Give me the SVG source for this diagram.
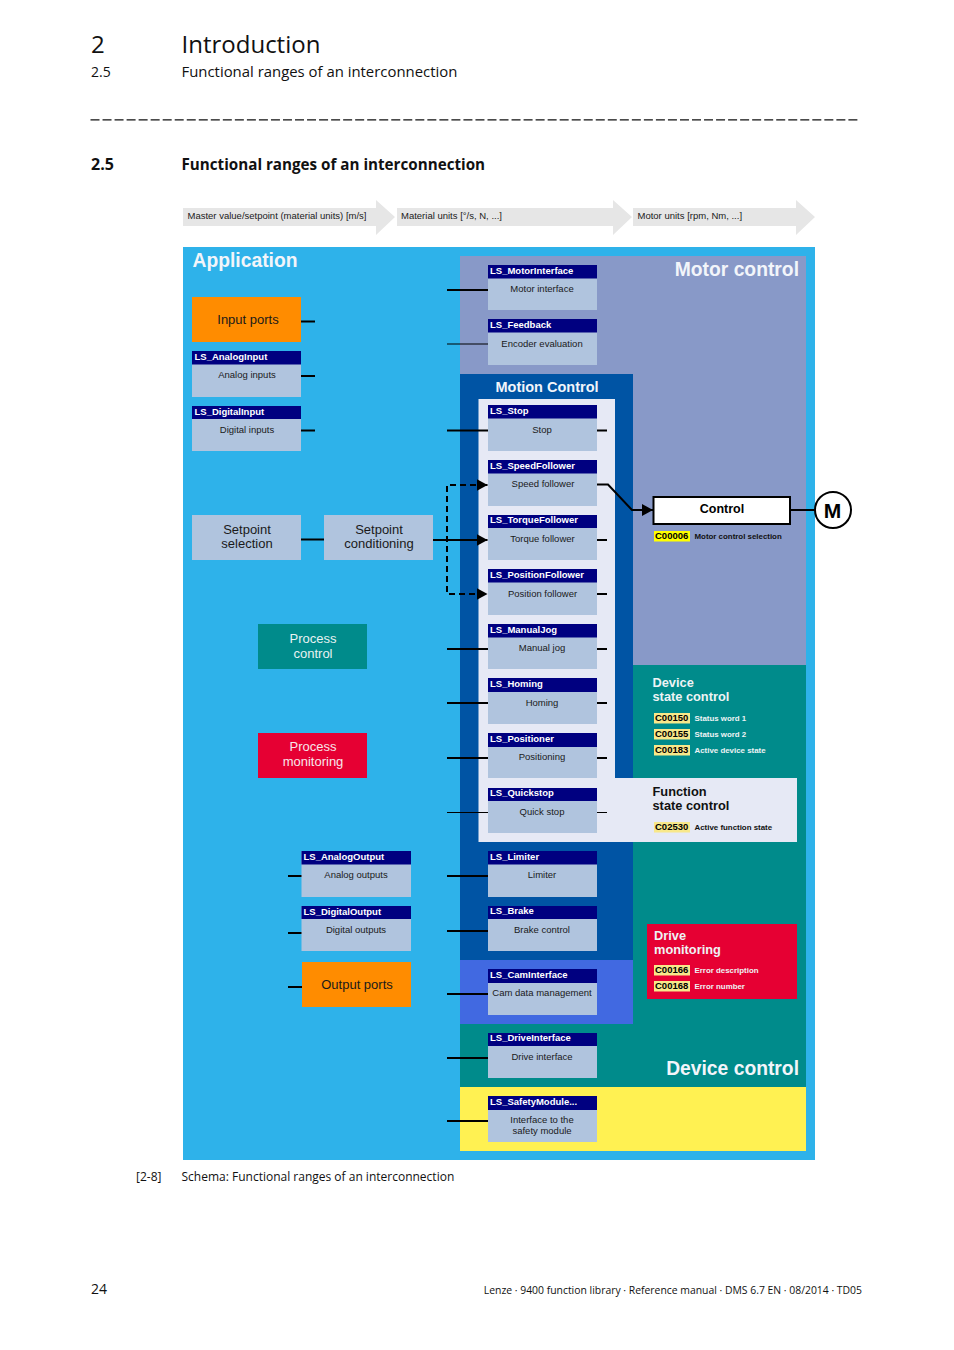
<svg xmlns="http://www.w3.org/2000/svg" width="954" height="1350" viewBox="0 0 954 1350">
<defs><style>
text{font-family:"Liberation Sans",Arial,sans-serif;fill:#1a1a1a}
.p{font-family:"Open Sans","Noto Sans",sans-serif;fill:#111}
.bh{fill:#000080}.bb{fill:#b0c4de}
.ht{font-size:9.500px;font-weight:bold;fill:#fff}
.bt{font-size:9.500px;text-anchor:middle}
.big{font-size:13px;text-anchor:middle}
.ttl{font-size:19.300px;font-weight:bold;fill:#f2f5fa}
.sub{font-size:12.800px;font-weight:bold;fill:#eef3f5}
.code{font-size:9.500px;font-weight:bold;fill:#000}
.cl{font-size:7.900px;font-weight:bold;fill:#eef3f5}
.ar{fill:#e6e6e6}.at{font-size:9.500px}
.c{stroke:#000;stroke-width:2;fill:none}.t{stroke:#000;stroke-width:1;fill:none}
.d{stroke:#000;stroke-width:2;fill:none;stroke-dasharray:6 4}
</style>
<marker id="ah" markerWidth="12" markerHeight="12" refX="11" refY="6" orient="auto" markerUnits="userSpaceOnUse"><path d="M0 0L11 6L0 12Z" fill="#000"/></marker>
</defs>
<rect width="954" height="1350" fill="#fff"/>
<g id="page-header">
<text class="p" x="91" y="53" font-size="24">2</text>
<text class="p" x="181.500" y="53" font-size="24">Introduction</text>
<text class="p" x="91" y="77" font-size="14">2.5</text>
<text class="p" x="181.500" y="77" font-size="14.900">Functional ranges of an interconnection</text>
<line x1="90.500" y1="119.800" x2="860" y2="119.800" stroke="#111" stroke-width="1.300" stroke-dasharray="9 3.030"/>
<text class="p" x="91" y="170" font-size="16" font-weight="bold">2.5</text>
<text class="p" x="181.500" y="170" font-size="15.200" font-weight="bold">Functional ranges of an interconnection</text>
</g>
<g id="unit-arrows">
<path class="ar" d="M183 208H376V200L395 217L376 235V226H183Z"/>
<text class="at" x="187.500" y="219">Master value/setpoint (material units) [m/s]</text>
<path class="ar" d="M397 208H613V200L632 217L613 235V226H397Z"/>
<text class="at" x="401" y="219">Material units [°/s, N, ...]</text>
<path class="ar" d="M633 208H796V200L815 217L796 235V226H633Z"/>
<text class="at" x="637.500" y="219">Motor units [rpm, Nm, ...]</text>
</g>
<g id="panels">
<rect x="183" y="247" width="632" height="913" fill="#2eb2ea"/>
<rect x="460" y="256" width="346" height="409" fill="#8899c8"/>
<rect x="633" y="665" width="173" height="422" fill="#008b8b"/>
<rect x="460" y="842" width="173" height="245" fill="#008b8b"/>
<rect x="460" y="374" width="173" height="586" fill="#0054a4"/>
<rect x="460" y="960" width="173" height="64" fill="#4169e1"/>
<rect x="460" y="1087" width="346" height="64" fill="#fff152"/>
<path d="M478.500 399H615V778H797V842H478.500Z" fill="#e6e9f5"/>
<text class="ttl" x="192.500" y="267">Application</text>
<text class="ttl" x="799" y="276" text-anchor="end">Motor control</text>
<text x="547" y="392" font-size="14.500" font-weight="bold" text-anchor="middle" style="fill:#f2f5fa">Motion Control</text>
<text class="ttl" x="799" y="1075" text-anchor="end">Device control</text>
</g>
<g id="connectors">
<path class="c" d="M301 321.500H315M301 376H315M301 430.500H315M447 290H488M447 430.500H488M597 430.500H607M597 540H607M597 594H607M597 649H607M597 703H607M597 758H607M288 876H302M288 933H302M288 987H302M447 649H488M447 703H488M447 758H488M447 876H488M447 931H488M447 994H488M447 1058H488M447 1121H488M301 539.500H324"/>
<path class="t" d="M447 344H488M447 812.500H488M597 812.500H607"/>
<path class="c" d="M433 540H487.500" marker-end="url(#ah)"/>
<path class="d" d="M476 485H447V594H487.500" marker-end="url(#ah)"/>
<path class="c" d="M477 485H487.500" marker-end="url(#ah)"/>
<path class="c" d="M597 484.500H608L632 510H653" marker-end="url(#ah)"/>
<path class="c" d="M790 510H815"/>
</g>
<g id="node-input-ports"><rect x="192" y="297" width="109" height="45" fill="#ff8c00"/><text class="big" x="248" y="324">Input ports</text></g>
<g id="node-output-ports"><rect x="302" y="962" width="109" height="45" fill="#ff8c00"/><text class="big" x="357" y="989">Output ports</text></g>
<g id="node-setpoint-selection"><rect x="192" y="515" width="109" height="45" class="bb"/><text class="big" x="247" y="534">Setpoint</text><text class="big" x="247" y="548">selection</text></g>
<g id="node-setpoint-conditioning"><rect x="324" y="515" width="109" height="45" class="bb"/><text class="big" x="379" y="534">Setpoint</text><text class="big" x="379" y="548">conditioning</text></g>
<g id="node-process-control"><rect x="258" y="624" width="109" height="45" fill="#008b8b"/><text class="big" x="313" y="643" style="fill:#e8f2f2">Process</text><text class="big" x="313" y="658" style="fill:#e8f2f2">control</text></g>
<g id="node-process-monitoring"><rect x="258" y="733" width="109" height="45" fill="#e60033"/><text class="big" x="313" y="751" style="fill:#f7e6ea">Process</text><text class="big" x="313" y="766" style="fill:#f7e6ea">monitoring</text></g>
<g id="node-analog-input"><rect class="bb" x="192" y="351" width="109" height="46"/><rect class="bh" x="192" y="351" width="109" height="13.500"/><text class="ht" x="194.500" y="360">LS_AnalogInput</text><text class="bt" x="247" y="378">Analog inputs</text></g>
<g id="node-digital-input"><rect class="bb" x="192" y="406" width="109" height="45"/><rect class="bh" x="192" y="406" width="109" height="13"/><text class="ht" x="194.500" y="414.500">LS_DigitalInput</text><text class="bt" x="247" y="433">Digital inputs</text></g>
<g id="node-analog-output"><rect class="bb" x="301.500" y="851" width="109.500" height="46"/><rect class="bh" x="301.500" y="851" width="109.500" height="13.500"/><text class="ht" x="303.500" y="860">LS_AnalogOutput</text><text class="bt" x="356" y="878">Analog outputs</text></g>
<g id="node-digital-output"><rect class="bb" x="301.500" y="906" width="109.500" height="45"/><rect class="bh" x="301.500" y="906" width="109.500" height="13"/><text class="ht" x="303.500" y="914.500">LS_DigitalOutput</text><text class="bt" x="356" y="933">Digital outputs</text></g>
<g id="node-motor-interface"><rect class="bb" x="488" y="265" width="109" height="45"/><rect class="bh" x="488" y="265" width="109" height="13.500"/><text class="ht" x="490" y="274">LS_MotorInterface</text><text class="bt" x="542" y="292">Motor interface</text></g>
<g id="node-feedback"><rect class="bb" x="488" y="319" width="109" height="46"/><rect class="bh" x="488" y="319" width="109" height="13.500"/><text class="ht" x="490" y="328">LS_Feedback</text><text class="bt" x="542" y="347">Encoder evaluation</text></g>
<g id="node-stop"><rect class="bb" x="488" y="405" width="109" height="46"/><rect class="bh" x="488" y="405" width="109" height="13.500"/><text class="ht" x="490" y="414">LS_Stop</text><text class="bt" x="542" y="433">Stop</text></g>
<g id="node-speed-follower"><rect class="bb" x="488" y="460" width="109" height="46"/><rect class="bh" x="488" y="460" width="109" height="13.500"/><text class="ht" x="490" y="469">LS_SpeedFollower</text><text class="bt" x="543" y="487">Speed follower</text></g>
<g id="node-torque-follower"><rect class="bb" x="488" y="515" width="109" height="45"/><rect class="bh" x="488" y="515" width="109" height="13"/><text class="ht" x="490" y="523">LS_TorqueFollower</text><text class="bt" x="542.500" y="542">Torque follower</text></g>
<g id="node-position-follower"><rect class="bb" x="488" y="569" width="109" height="46"/><rect class="bh" x="488" y="569" width="109" height="13.500"/><text class="ht" x="490" y="578">LS_PositionFollower</text><text class="bt" x="542.500" y="597">Position follower</text></g>
<g id="node-manual-jog"><rect class="bb" x="488" y="624" width="109" height="45"/><rect class="bh" x="488" y="624" width="109" height="13.500"/><text class="ht" x="490" y="633">LS_ManualJog</text><text class="bt" x="542" y="651">Manual jog</text></g>
<g id="node-homing"><rect class="bb" x="488" y="678" width="109" height="46"/><rect class="bh" x="488" y="678" width="109" height="14"/><text class="ht" x="490" y="687">LS_Homing</text><text class="bt" x="542" y="706">Homing</text></g>
<g id="node-positioner"><rect class="bb" x="488" y="733" width="109" height="45"/><rect class="bh" x="488" y="733" width="109" height="14"/><text class="ht" x="490" y="742">LS_Positioner</text><text class="bt" x="542" y="760">Positioning</text></g>
<g id="node-quickstop"><rect class="bb" x="488" y="788" width="109" height="45"/><rect class="bh" x="488" y="788" width="109" height="13"/><text class="ht" x="490" y="796">LS_Quickstop</text><text class="bt" x="542" y="815">Quick stop</text></g>
<g id="node-limiter"><rect class="bb" x="488" y="851" width="109" height="46"/><rect class="bh" x="488" y="851" width="109" height="13.500"/><text class="ht" x="490" y="860">LS_Limiter</text><text class="bt" x="542" y="878">Limiter</text></g>
<g id="node-brake"><rect class="bb" x="488" y="906" width="109" height="45"/><rect class="bh" x="488" y="906" width="109" height="13"/><text class="ht" x="490" y="914">LS_Brake</text><text class="bt" x="542" y="933">Brake control</text></g>
<g id="node-cam-interface"><rect class="bb" x="488" y="969" width="109" height="46"/><rect class="bh" x="488" y="969" width="109" height="14"/><text class="ht" x="490" y="978">LS_CamInterface</text><text class="bt" x="542" y="996">Cam data management</text></g>
<g id="node-drive-interface"><rect class="bb" x="488" y="1033" width="109" height="45"/><rect class="bh" x="488" y="1033" width="109" height="13"/><text class="ht" x="490" y="1041">LS_DriveInterface</text><text class="bt" x="542" y="1060">Drive interface</text></g>
<g id="node-safety-module"><rect class="bb" x="488" y="1096" width="109" height="46"/><rect class="bh" x="488" y="1096" width="109" height="14"/><text class="ht" x="490" y="1105">LS_SafetyModule...</text><text class="bt" x="542" y="1123">Interface to the</text><text class="bt" x="542" y="1134">safety module</text></g>
<g id="node-control"><rect x="653.500" y="497" width="136.500" height="27" fill="#fff" stroke="#000" stroke-width="2"/><text x="722" y="513" font-size="12.500" font-weight="bold" text-anchor="middle" style="fill:#000">Control</text>
<rect x="654" y="531" width="36" height="10.500" fill="#ff0"/><text class="code" x="655" y="539">C00006</text><text class="cl" x="694.500" y="539" style="fill:#111">Motor control selection</text></g>
<g id="node-motor"><circle cx="833" cy="510" r="18" fill="#fff" stroke="#000" stroke-width="2"/><text x="832.500" y="517.500" font-size="21" font-weight="bold" text-anchor="middle" style="fill:#000">M</text></g>
<g id="node-device-state-control"><text class="sub" x="652.500" y="687">Device</text><text class="sub" x="652.500" y="701">state control</text>
<rect x="654" y="713" width="36" height="10.500" fill="#f8e88a"/><text class="code" x="655" y="721">C00150</text><text class="cl" x="694.500" y="721">Status word 1</text>
<rect x="654" y="729" width="36" height="10.500" fill="#f8e88a"/><text class="code" x="655" y="737">C00155</text><text class="cl" x="694.500" y="737">Status word 2</text>
<rect x="654" y="745" width="36" height="10.500" fill="#f8e88a"/><text class="code" x="655" y="753">C00183</text><text class="cl" x="694.500" y="753">Active device state</text></g>
<g id="node-function-state-control"><text class="sub" x="652.500" y="796" style="fill:#111">Function</text><text class="sub" x="652.500" y="810" style="fill:#111">state control</text>
<rect x="654" y="822" width="36" height="10.500" fill="#f8e88a"/><text class="code" x="655" y="830">C02530</text><text class="cl" x="694.500" y="830" style="fill:#111">Active function state</text></g>
<g id="node-drive-monitoring"><rect x="647" y="924" width="150" height="75" fill="#e60033"/><text class="sub" x="654" y="940">Drive</text><text class="sub" x="654" y="954">monitoring</text>
<rect x="654" y="965" width="36" height="10.500" fill="#f8e88a"/><text class="code" x="655" y="973">C00166</text><text class="cl" x="694.500" y="973">Error description</text>
<rect x="654" y="981" width="36" height="10.500" fill="#f8e88a"/><text class="code" x="655" y="989">C00168</text><text class="cl" x="694.500" y="989">Error number</text></g>
<g id="page-footer">
<text class="p" x="136" y="1181" font-size="12">[2-8]</text>
<text class="p" x="181.500" y="1181" font-size="12">Schema: Functional ranges of an interconnection</text>
<text class="p" x="91" y="1294" font-size="14">24</text>
<text class="p" x="862" y="1294" font-size="10.400" text-anchor="end">Lenze · 9400 function library · Reference manual · DMS 6.7 EN · 08/2014 · TD05</text>
</g>
</svg>
